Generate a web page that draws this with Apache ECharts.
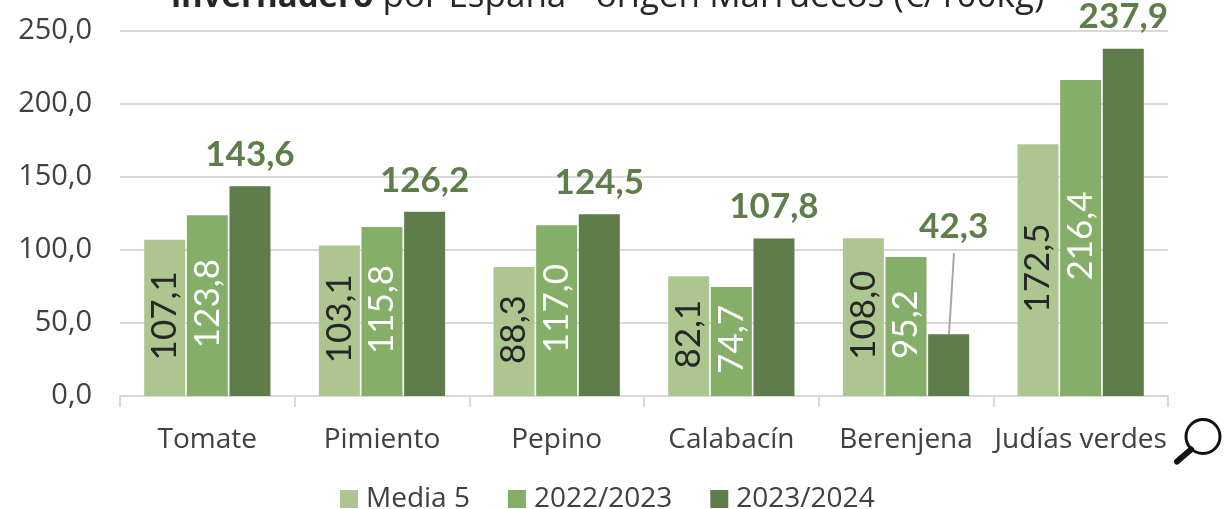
<!DOCTYPE html>
<html>
<head>
<meta charset="utf-8">
<style>
  html, body { margin: 0; padding: 0; background: #fff; }
  #chart { width: 1224px; height: 509px; }
</style>
<script src="https://cdn.jsdelivr.net/npm/echarts@6/dist/echarts.min.js"></script>
</head>
<body>
<div id="chart"></div>
<script>
const categories = ['Tomate', 'Pimiento', 'Pepino', 'Calabacín', 'Berenjena', 'Judías verdes'];
const media5 = [107.1, 103.1, 88.3, 82.1, 108.0, 172.5];
const campana2223 = [123.8, 115.8, 117.0, 74.7, 95.2, 216.4];
const campana2324 = [143.6, 126.2, 124.5, 107.8, 42.3, 237.9];
const yTicks = { min: 0, max: 250, interval: 50 };

const comma = v => v.toFixed(1).replace('.', ',');
const font = '"Open Sans", "Noto Sans", sans-serif';
const barWidth = 41;
const barStep = 43; // bar width plus the small gap between bars

const chart = echarts.init(document.getElementById('chart'));

const rotatedLabel = color => ({
  show: true,
  position: 'inside',
  rotate: 90,
  align: 'center',
  verticalAlign: 'middle',
  offset: [2, 0],
  fontFamily: 'Lato, ' + font,
  fontSize: 35,
  color: color,
  formatter: p => comma(p.value)
});

chart.setOption({
  animation: false,
  backgroundColor: '#fff',
  title: {
    text: '{b|invernadero} por España - origen Marruecos (€/100kg)',
    left: 166,
    top: -25,
    textStyle: {
      fontFamily: font,
      fontSize: 35,
      fontWeight: 'normal',
      color: '#262626',
      rich: {
        b: { fontFamily: font, fontSize: 33, fontWeight: 'bold', color: '#262626' }
      }
    }
  },
  grid: { left: 120, right: 56, top: 31, bottom: 113 },
  legend: {
    bottom: -9,
    left: 335,
    itemWidth: 18,
    itemHeight: 18,
    itemGap: 38,
    icon: 'rect',
    textStyle: { fontFamily: font, fontSize: 28, color: '#404040', padding: [0, 0, 0, 3] },
    data: ['Media 5', '2022/2023', '2023/2024']
  },
  xAxis: {
    type: 'category',
    data: categories,
    axisLine: { lineStyle: { color: '#d9d9d9', width: 2 } },
    axisTick: { show: true, length: 11, lineStyle: { color: '#d9d9d9', width: 2 } },
    axisLabel: { fontFamily: font, fontSize: 28, color: '#404040', margin: 30, interval: 0 }
  },
  yAxis: {
    type: 'value',
    min: yTicks.min,
    max: yTicks.max,
    interval: yTicks.interval,
    axisLine: { show: false },
    axisTick: { show: false },
    splitLine: { lineStyle: { color: '#d9d9d9', width: 2 } },
    axisLabel: { fontFamily: font, fontSize: 29, color: '#404040', margin: 28, formatter: v => comma(v) }
  },
  series: [
    {
      name: 'Media 5',
      type: 'bar',
      data: media5,
      barWidth: barWidth,
      barGap: '4%',
      itemStyle: { color: '#adc58f' },
      label: rotatedLabel('#262626')
    },
    {
      name: '2022/2023',
      type: 'bar',
      data: campana2223,
      barWidth: barWidth,
      barGap: '4%',
      itemStyle: { color: '#85ae68' },
      label: rotatedLabel('#fff')
    },
    {
      name: '2023/2024',
      type: 'bar',
      data: campana2324,
      barWidth: barWidth,
      barGap: '4%',
      itemStyle: { color: '#5f7d4b' },
      label: {
        show: true,
        position: 'top',
        distance: 14,
        fontFamily: 'Lato, ' + font,
        fontSize: 35,
        fontWeight: 'bold',
        color: '#5f7d4b',
        formatter: p => comma(p.value)
      },
      // Berenjena's label sits higher than the others
      labelLayout: p => (p.dataIndex === 4 ? { dx: 5, dy: -76 } : {})
    }
  ]
});

// leader line from the 42,3 label down to its bar, slanted as in the source
const berenjena = 4;
const barX = chart.convertToPixel({ xAxisIndex: 0 }, berenjena) + barStep;
const barY = chart.convertToPixel({ yAxisIndex: 0 }, campana2324[berenjena]);

chart.setOption({
  graphic: [
    {
      type: 'line',
      shape: { x1: barX + 5, y1: barY - 81, x2: barX, y2: barY },
      style: { stroke: '#a6a6a6', lineWidth: 2 }
    },
    {
      type: 'group',
      left: 1174,
      top: 417,
      children: [
        { type: 'circle', shape: { cx: 30, cy: 19, r: 17 }, style: { fill: 'none', stroke: '#111', lineWidth: 3 } },
        { type: 'line', shape: { x1: 18, y1: 32, x2: 4, y2: 44 }, style: { stroke: '#111', lineWidth: 6, lineCap: 'round' } }
      ]
    }
  ]
});
</script>
</body>
</html>
